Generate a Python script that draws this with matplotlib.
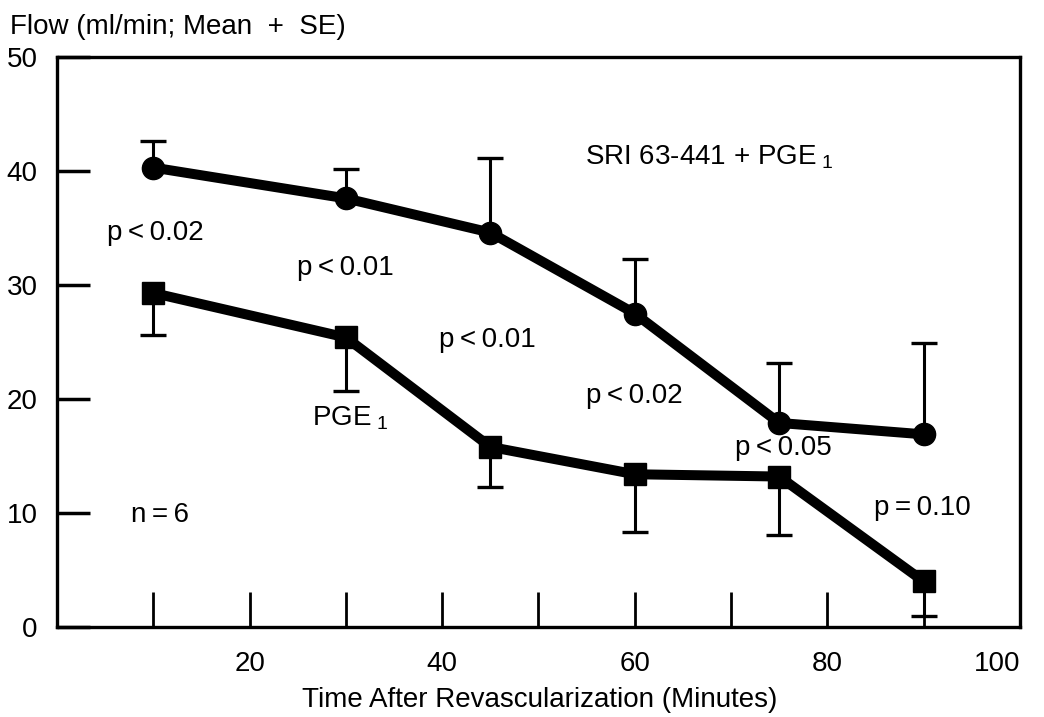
import matplotlib
matplotlib.use("Agg")
import matplotlib.pyplot as plt

plt.rcParams['font.family'] = ['Liberation Sans', 'DejaVu Sans']
plt.rcParams['mathtext.fontset'] = 'custom'
plt.rcParams['mathtext.rm'] = 'Liberation Sans'
plt.rcParams['mathtext.it'] = 'Liberation Sans:italic'

# data
time_min = [10, 30, 45, 60, 75, 90]
combo_mean = [40.3, 37.6, 34.6, 27.5, 17.9, 16.9]   # SRI 63-441 + PGE1
combo_se_top = [42.6, 40.2, 41.1, 32.3, 23.2, 24.9]
pge_mean = [29.3, 25.4, 15.8, 13.4, 13.2, 4.0]      # PGE1 alone
pge_se_bottom = [25.6, 20.7, 12.3, 8.3, 8.1, 1.0]

ts = "\u2009"  # thin space
p_labels = ["p" + ts + "<" + ts + "0.02", "p" + ts + "<" + ts + "0.01",
            "p" + ts + "<" + ts + "0.01", "p" + ts + "<" + ts + "0.02",
            "p" + ts + "<" + ts + "0.05", "p" + ts + "=" + ts + "0.10"]
p_x = [10.2, 29.9, 44.7, 59.9, 75.4, 89.9]
p_y = [34.6, 31.5, 25.2, 20.3, 15.7, 10.4]

fig = plt.figure(figsize=(10.44, 7.17), dpi=100)
ax = fig.add_axes([0.0546, 0.1255, 0.9224, 0.795])

# error bars (one-sided)
ax.vlines(time_min, combo_mean, combo_se_top, color="black", linewidth=2.2, zorder=2)
ax.plot(time_min, combo_se_top, linestyle="none", marker="_", markersize=19,
        markeredgewidth=2.4, color="black", zorder=2)
ax.vlines(time_min, pge_se_bottom, pge_mean, color="black", linewidth=2.2, zorder=2)
ax.plot(time_min, pge_se_bottom, linestyle="none", marker="_", markersize=19,
        markeredgewidth=2.4, color="black", zorder=2)

ax.plot(time_min, combo_mean, color="black", linewidth=7.2, marker="o",
        markersize=16, zorder=3)
ax.plot(time_min, pge_mean, color="black", linewidth=7.2, marker="s",
        markersize=16, zorder=3)

fs = 20
for lab, x, y in zip(p_labels, p_x, p_y):
    ax.text(x, y, lab, fontsize=fs, ha="center", va="center")
ax.text(30.4, 18.3, r"PGE$_{\ 1}$", fontsize=fs, ha="center", va="center")
ax.text(10.7, 9.8, "n" + ts + "=" + ts + "6", fontsize=fs, ha="center", va="center")
ax.text(67.7, 41.2, r"SRI 63-441 $+$ PGE$_{\ 1}$", fontsize=fs, ha="center", va="center")

ax.set_xlim(0, 100)
ax.set_ylim(0, 50)
ax.set_xticks([10, 20, 30, 40, 50, 60, 70, 80, 90, 100])
ax.set_xticklabels(["", "20", "", "40", "", "60", "", "80", "", "100"])
ax.get_xticklabels()[-1].set_ha("right")
ax.set_yticks([0, 10, 20, 30, 40, 50])
ax.tick_params(axis="x", direction="in", length=25, width=2, pad=17, labelsize=fs)
ax.tick_params(axis="y", direction="in", length=24, width=2.5, pad=14, labelsize=fs)
for sp in ax.spines.values():
    sp.set_linewidth(2.4)

fig.text(0.0095, 0.963, "Flow (ml/min; Mean  +  SE)", fontsize=fs, ha="left", va="center")
fig.text(0.517, 0.024, "Time After Revascularization (Minutes)", fontsize=fs,
         ha="center", va="center")

plt.savefig("out.png", dpi=100)
